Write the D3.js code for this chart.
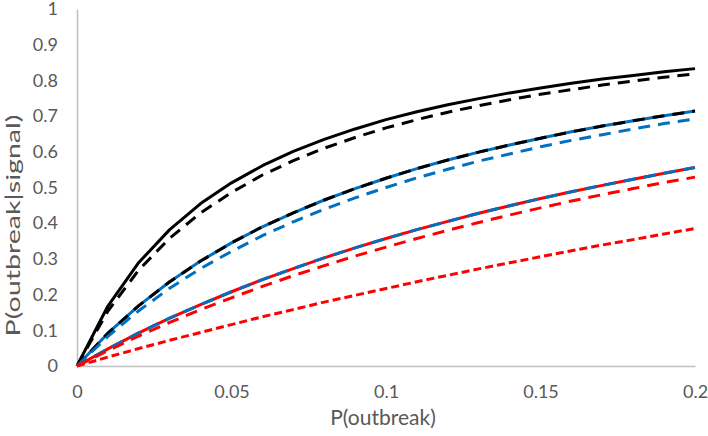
<!DOCTYPE html>
<html lang="en">
<head>
  <meta charset="UTF-8">
  <title>P(outbreak|signal)</title>
  <script src="https://d3js.org/d3.v7.min.js"></script>
  <style>
    * {
      margin: 0;
      padding: 0;
      box-sizing: border-box;
    }
    body {
      font-family: Lato, "Open Sans", sans-serif;
      background: #fff;
    }
  </style>
</head>
<body>
  <div id="chart"></div>

  <script>
    // P(outbreak) values along the x axis
    const pOutbreak = [0, 0.01, 0.02, 0.03, 0.04, 0.05, 0.06, 0.07, 0.08, 0.09, 0.1,
                       0.11, 0.12, 0.13, 0.14, 0.15, 0.16, 0.17, 0.18, 0.19, 0.2];

    // P(outbreak|signal)
    const blackSolid   = [0, 0.168, 0.290, 0.382, 0.455, 0.513, 0.561, 0.601, 0.635, 0.664, 0.690,
                          0.712, 0.732, 0.749, 0.765, 0.779, 0.792, 0.804, 0.814, 0.824, 0.833];
    const blackDash    = [0, 0.154, 0.269, 0.358, 0.429, 0.486, 0.535, 0.575, 0.610, 0.640, 0.667,
                          0.690, 0.711, 0.729, 0.746, 0.761, 0.774, 0.787, 0.798, 0.809, 0.818];
    const blueSolid    = [0, 0.092, 0.169, 0.236, 0.294, 0.345, 0.390, 0.429, 0.465, 0.497, 0.526,
                          0.553, 0.577, 0.599, 0.619, 0.638, 0.656, 0.672, 0.687, 0.701, 0.714];
    const blackDash2   = [0, 0.092, 0.169, 0.236, 0.294, 0.345, 0.390, 0.429, 0.465, 0.497, 0.526,
                          0.553, 0.577, 0.599, 0.619, 0.638, 0.656, 0.672, 0.687, 0.701, 0.714];
    const blueDash     = [0, 0.083, 0.155, 0.218, 0.273, 0.321, 0.365, 0.404, 0.439, 0.471, 0.500,
                          0.527, 0.551, 0.574, 0.594, 0.614, 0.632, 0.648, 0.664, 0.679, 0.692];
    const redSolid     = [0, 0.048, 0.093, 0.134, 0.172, 0.208, 0.242, 0.273, 0.303, 0.331, 0.357,
                          0.382, 0.405, 0.428, 0.449, 0.469, 0.488, 0.506, 0.523, 0.540, 0.556];
    const blueDash2    = [0, 0.048, 0.093, 0.134, 0.172, 0.208, 0.242, 0.273, 0.303, 0.331, 0.357,
                          0.382, 0.405, 0.428, 0.449, 0.469, 0.488, 0.506, 0.523, 0.540, 0.556];
    const redDash      = [0, 0.043, 0.084, 0.122, 0.158, 0.191, 0.223, 0.253, 0.281, 0.308, 0.333,
                          0.357, 0.380, 0.402, 0.423, 0.443, 0.462, 0.480, 0.497, 0.514, 0.529];
    const redShortDash = [0, 0.025, 0.049, 0.072, 0.094, 0.116, 0.138, 0.158, 0.179, 0.198, 0.217,
                          0.236, 0.254, 0.272, 0.289, 0.306, 0.323, 0.339, 0.354, 0.370, 0.385];

    const xTicks = [0, 0.05, 0.1, 0.15, 0.2];
    const yTicks = [0, 0.1, 0.2, 0.3, 0.4, 0.5, 0.6, 0.7, 0.8, 0.9, 1];

    const margin = {top: 9, right: 13, bottom: 70, left: 77},
          width = 708 - margin.left - margin.right,
          height = 436 - margin.top - margin.bottom;

    const svg = d3.select("#chart")
                  .append("svg")
                  .attr("width", width + margin.left + margin.right)
                  .attr("height", height + margin.top + margin.bottom)
                  .append("g")
                  .attr("transform", `translate(${margin.left},${margin.top})`);

    const x = d3.scaleLinear().domain([0, 0.2]).range([0, width]);
    const y = d3.scaleLinear().domain([0, 1]).range([height, 0]);

    // axes (no tick marks, grey domain line)
    svg.append("g")
      .attr("transform", `translate(0, ${height})`)
      .call(d3.axisBottom(x)
              .tickValues(xTicks)
              .tickSize(0)
              .tickPadding(19)
              .tickFormat(d3.format("")))
      .call(g => {
        g.select(".domain").attr("stroke", "#bfbfbf").attr("stroke-width", 1.5);
        g.selectAll("text")
          .style("font-family", "Lato, sans-serif")
          .style("font-size", "18px")
          .style("fill", "#595959");
      });

    svg.append("g")
      .call(d3.axisLeft(y)
              .tickValues(yTicks)
              .tickSize(0)
              .tickPadding(19)
              .tickFormat(d3.format("")))
      .call(g => {
        g.select(".domain").attr("stroke", "#bfbfbf").attr("stroke-width", 1.5);
        g.selectAll("text")
          .style("font-family", "Lato, sans-serif")
          .style("font-size", "18px")
          .style("fill", "#595959");
      });

    svg.append("text")
      .attr("x", width / 2 - 3)
      .attr("y", height + 59)
      .attr("text-anchor", "middle")
      .style("font-size", "21px")
      .style("fill", "#595959")
      .text("P(outbreak)");

    // the y title is drawn long and narrow in the original
    svg.append("text")
      .attr("transform", `translate(${-57}, ${height / 2 + 38}) rotate(-90)`)
      .attr("text-anchor", "middle")
      .attr("textLength", 222)
      .attr("lengthAdjust", "spacingAndGlyphs")
      .style("font-size", "19px")
      .style("fill", "#595959")
      .text("P(outbreak|signal)");

    const series = [
      {values: blackSolid,   color: "#000000", dash: null},
      {values: blackDash,    color: "#000000", dash: "12,8"},
      {values: blueSolid,    color: "#0070c0", dash: null},
      {values: blackDash2,   color: "#000000", dash: "12,8"},
      {values: blueDash,     color: "#0070c0", dash: "12,8"},
      {values: redSolid,     color: "#ff0000", dash: null},
      {values: blueDash2,    color: "#0070c0", dash: "12,8"},
      {values: redDash,      color: "#ff0000", dash: "12,8"},
      {values: redShortDash, color: "#ff0000", dash: "8,4"}
    ];

    const line = d3.line()
                   .x((d, i) => x(pOutbreak[i]))
                   .y(d => y(d));

    svg.selectAll(".series")
      .data(series)
      .enter()
      .append("path")
      .attr("class", "series")
      .attr("d", d => line(d.values))
      .attr("fill", "none")
      .attr("stroke", d => d.color)
      .attr("stroke-width", 3)
      .attr("stroke-linejoin", "round")
      .attr("stroke-dasharray", d => d.dash);
  </script>
</body>
</html>
